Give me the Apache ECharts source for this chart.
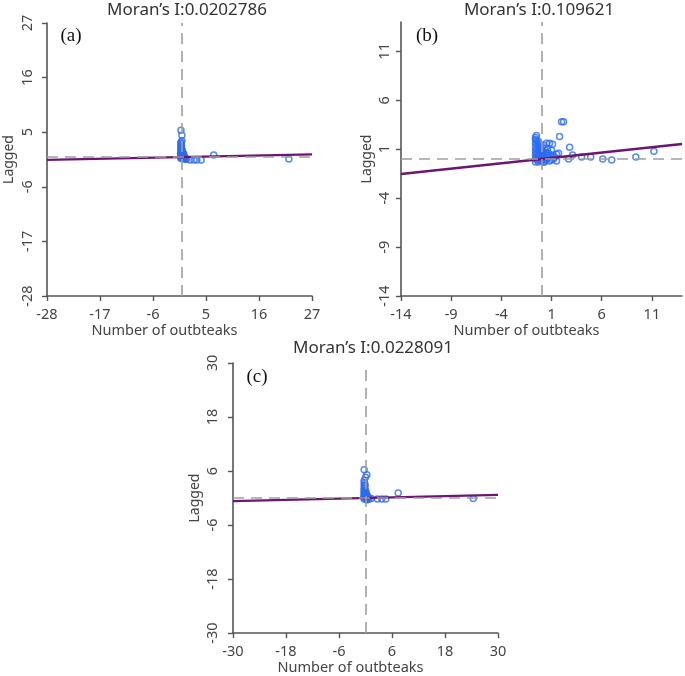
<!DOCTYPE html>
<html><head><meta charset="utf-8">
<script src="https://cdn.jsdelivr.net/npm/echarts@6/dist/echarts.min.js"></script>
<style>html,body{margin:0;padding:0;background:#fff}#c{width:685px;height:676px}</style>
</head><body><div id="c"></div>
<script>
// ---- data ----
const titles = ["Moran\u2019s I:0.0202786", "Moran\u2019s I:0.109621", "Moran\u2019s I:0.0228091"];
const moranI = [0.0202786, 0.109621, 0.0228091];
const panelLabels = ["(a)", "(b)", "(c)"];
const xName = "Number of outbteaks";
const yName = "Lagged";
const ticksA = [-28, -17, -6, 5, 16, 27];
const ticksB = [-14, -9, -4, 1, 6, 11];
const ticksC = [-30, -18, -6, 6, 18, 30];
const rangeA = [-28, 27];
const rangeB = [-14, 14];
const rangeC = [-30, 30];

const aX = [-0.2,0.0,-0.2,-0.2,-0.2,-0.2,-0.2,-0.2,-0.2,-0.2,-0.2,-0.2,-0.2,-0.2,-0.2,
            0.2,0.3,0.5,0.3,0.8,0.1,0.4,0.6,0.9,1.7,2.5,3.1,4.0,6.6,22.2,
            -0.1,-0.1,0.0,0.0,0.0,0.1,0.2,0.4,-0.1,0.0];
const aY = [5.4,4.4,3.0,2.7,2.2,1.8,1.5,1.2,0.9,0.7,0.5,0.3,0.1,-0.1,-0.3,
            0.8,0.4,0.1,-0.2,-0.3,1.3,0.6,-0.1,-0.5,-0.6,-0.6,-0.6,-0.6,0.4,-0.4,
            2.0,1.6,1.0,0.6,0.2,-0.2,0.3,-0.4,2.5,3.3];

const bX = [-0.5,-0.6,-0.6,-0.6,-0.6,-0.6,-0.6,-0.6,
            -0.3,-0.3,-0.3,-0.3,-0.3,-0.3,
            0.0,0.0,0.0,0.0,
            0.3,0.4,0.3,0.4,0.3,
            0.6,0.7,0.7,0.8,
            0.5,0.8,1.1,
            1.0,1.1,1.2,1.5,1.5,1.7,1.3,
            1.8,2.0,2.2,
            2.8,3.1,2.7,4.0,4.9,6.1,7.0,9.4,11.2,
            -0.5,-0.5,-0.5,-0.5,-0.5,-0.4,-0.2,-0.2,-0.2,-0.2,-0.1,
            0.1,0.1,0.1,0.2,0.5,0.5,0.9,1.0,0.2,-0.6];
const bY = [2.4,2.0,1.6,1.2,0.8,0.4,0.0,-0.3,
            1.8,1.3,0.9,0.5,0.1,-0.3,
            1.0,0.6,0.2,-0.2,
            1.1,0.7,0.3,-0.1,-0.3,
            1.0,0.6,0.2,-0.2,
            1.6,1.6,1.5,
            0.9,0.4,0.0,-0.2,0.5,0.6,0.2,
            2.3,3.8,3.8,
            1.2,0.4,0.0,0.2,0.2,0.0,-0.1,0.2,0.8,
            1.9,1.5,1.0,0.6,0.2,-0.1,1.5,1.1,0.7,0.3,-0.1,
            0.8,0.4,0.0,-0.3,0.4,0.0,0.3,-0.1,1.4,2.2];

const cX = [-0.3,0.3,-0.3,-0.3,-0.3,-0.3,-0.3,-0.3,-0.3,-0.3,-0.3,-0.3,-0.3,
            0.2,0.4,0.6,0.3,0.8,0.1,0.5,1.3,2.7,3.7,4.6,7.4,24.4,
            -0.1,-0.1,0.0,0.0,0.1,0.2,0.4,0.0,-0.1];
const cY = [6.3,5.2,3.9,3.4,2.8,2.2,1.8,1.4,1.0,0.7,0.4,0.1,-0.2,
            0.9,0.5,0.1,-0.3,-0.2,1.5,0.3,-0.1,-0.2,-0.2,-0.2,1.1,-0.1,
            2.5,1.6,1.0,0.4,-0.1,0.6,-0.4,4.6,3.0];

// ---- layout / style ----
const grids = [
  {left: 47, top: 23, width: 265, height: 273},
  {left: 401, top: 22, width: 281, height: 274},
  {left: 233, top: 363, width: 265, height: 273}
];
const panels = [
  {x: aX, y: aY, ticks: ticksA, range: rangeA, yMargin: 12, yNameGap: 31},
  {x: bX, y: bY, ticks: ticksB, range: rangeB, yMargin: 9, yNameGap: 27},
  {x: cX, y: cY, ticks: ticksC, range: rangeC, yMargin: 13, yNameGap: 31}
];
const titlePos = [[187, 10], [539, 10], [373, 348]];
const labelPos = [[71, 36], [427, 36], [257, 377]];

const font = "'Noto Sans', 'DejaVu Sans', sans-serif";
const axisColor = '#555';
const xAxes = [], yAxes = [], series = [], graphic = [];

panels.forEach((p, i) => {
  const common = {
    gridIndex: i, type: 'value', min: p.range[0], max: p.range[1],
    axisLine: {onZero: false, lineStyle: {color: axisColor, width: 1.6}},
    axisTick: {show: true, length: 5, customValues: p.ticks, lineStyle: {color: axisColor, width: 1.4}},
    splitLine: {show: false},
    nameTextStyle: {fontFamily: font, fontSize: 14, color: '#444'}
  };
  xAxes.push(Object.assign({}, common, {
    name: xName, nameLocation: 'middle', nameGap: 24,
    nameTextStyle: {fontFamily: font, fontSize: 14.5, color: '#444', padding: [0, 30, 0, 0]},
    axisLabel: {customValues: p.ticks, margin: 11, fontFamily: font, fontSize: 14.5, color: '#444'}
  }));
  yAxes.push(Object.assign({}, common, {
    name: yName, nameLocation: 'middle', nameGap: p.yNameGap, nameRotate: 90,
    axisLabel: {customValues: p.ticks, rotate: 90, margin: p.yMargin, fontFamily: font, fontSize: 14.5, color: '#444'}
  }));
  // reference dashed lines at zero
  series.push({
    type: 'scatter', xAxisIndex: i, yAxisIndex: i, data: [], z: 1, silent: true,
    markLine: {
      silent: true, symbol: 'none', label: {show: false}, animation: false,
      lineStyle: {color: '#9e9e9e', width: 1.6, type: [11, 7]},
      data: [{xAxis: 0}, {yAxis: 0}]
    }
  });
  // points
  series.push({
    type: 'scatter', xAxisIndex: i, yAxisIndex: i, z: 3,
    symbol: 'circle', symbolSize: 6,
    itemStyle: {color: 'rgba(0,0,0,0)', borderColor: '#2a6cf0', borderWidth: 1.5},
    data: p.x.map((v, k) => [v, p.y[k]])
  });
  // regression line (slope = Moran's I)
  series.push({
    type: 'line', xAxisIndex: i, yAxisIndex: i, z: 4, symbol: 'none',
    lineStyle: {color: '#6b1670', width: 2.3},
    data: [[p.range[0], moranI[i] * p.range[0]], [p.range[1], moranI[i] * p.range[1]]]
  });
  graphic.push({
    type: 'text', x: titlePos[i][0], y: titlePos[i][1],
    style: {text: titles[i], fill: '#333', font: "17px 'Noto Sans', sans-serif",
            textAlign: 'center', textVerticalAlign: 'middle'}
  });
  graphic.push({
    type: 'text', x: labelPos[i][0], y: labelPos[i][1],
    style: {text: panelLabels[i], fill: '#111', font: "19px 'Liberation Serif', 'DejaVu Serif', serif",
            textAlign: 'center', textVerticalAlign: 'middle'}
  });
});

const chart = echarts.init(document.getElementById('c'), null, {renderer: 'canvas'});
chart.setOption({
  animation: false,
  grid: grids,
  xAxis: xAxes,
  yAxis: yAxes,
  series: series,
  graphic: graphic
});
</script>
</body></html>
